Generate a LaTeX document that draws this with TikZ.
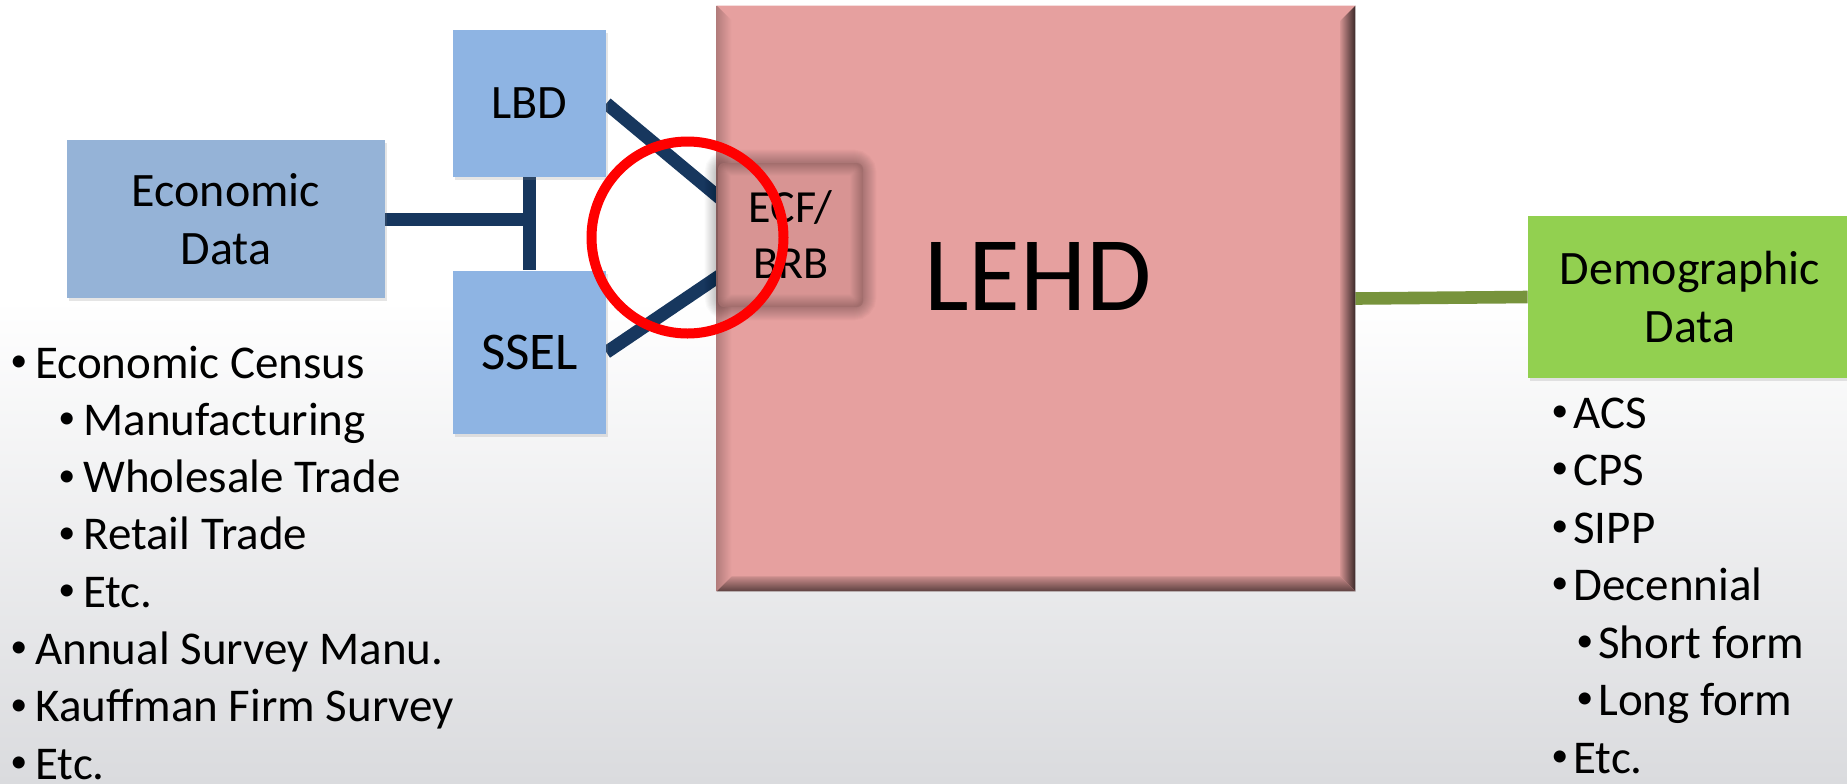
\documentclass[tikz,border=0pt]{standalone}
\usepackage{fontspec}
\setmainfont{Carlito}
\usetikzlibrary{positioning, calc, shadows}

\definecolor{econblue}{RGB}{149,179,215}
\definecolor{srcblue}{RGB}{142,180,227}
\definecolor{wirenavy}{RGB}{23,55,94}
\definecolor{lehdpink}{RGB}{230,160,159}
\definecolor{ecfpink}{RGB}{216,148,147}
\definecolor{demoggreen}{RGB}{146,208,80}
\definecolor{wiregreen}{RGB}{119,147,60}
\definecolor{backgray}{RGB}{218,219,222}

\pgfdeclarelayer{backdrop}
\pgfdeclarelayer{wires}
\pgfsetlayers{backdrop,wires,main}

\newcommand{\listdot}{\makebox[0pt][l]{\raisebox{3.3pt}{\fontsize{17}{17}\selectfont•}}}

\begin{document}
\begin{tikzpicture}[x=0.5pt, y=-0.5pt]
    \tikzset{
      databox/.style={rectangle, inner sep=0pt, align=center, font=\fontsize{24}{29}\selectfont,
        drop shadow={shadow xshift=1pt, shadow yshift=-1.5pt, opacity=.2}},
      navywire/.style={line width=6.5pt, draw=wirenavy},
      listitem/.style={anchor=base west, inner sep=0pt, font=\fontsize{23.5}{28}\selectfont}
    }

    \useasboundingbox (0,0) rectangle (1847,783);
    \begin{pgfonlayer}{backdrop}
      \fill[white] (0,0) rectangle (1847,302);
      \shade[top color=white, bottom color=backgray] (0,300) rectangle (1847,783);
    \end{pgfonlayer}

    % economic side
    \node[databox, fill=econblue, minimum width=159pt, minimum height=79pt] (econ) at (226,219) {Economic\\Data};
    \node[databox, fill=srcblue, minimum width=76.5pt, minimum height=73.5pt] (lbd) at (529.5,103.5) {LBD};
    \node[databox, fill=srcblue, minimum width=76.5pt, minimum height=81.5pt, below=46.5pt of lbd,
      font=\fontsize{26.5}{30}\selectfont] (ssel) {SSEL};

    % LEHD with bevel
    \node[rectangle, fill=lehdpink, inner sep=0pt, minimum width=319pt, minimum height=292.5pt] (lehd) at (1036,298.5) {};
    \shade[top color=lehdpink, middle color=lehdpink!40!white, bottom color=lehdpink]
      (lehd.north west) -- (lehd.north east) -- ($(lehd.north east)+(-15,15)$) -- ($(lehd.north west)+(15,15)$) -- cycle;
    \shade[left color=lehdpink!78!black, right color=lehdpink]
      (lehd.north west) -- ($(lehd.north west)+(15,15)$) -- ($(lehd.south west)+(15,-15)$) -- (lehd.south west) -- cycle;
    \shade[left color=lehdpink!90!black, right color=lehdpink!25!black]
      (lehd.north east) -- (lehd.south east) -- ($(lehd.south east)+(-15,-15)$) -- ($(lehd.north east)+(-15,15)$) -- cycle;
    \shade[top color=lehdpink!88!black, bottom color=lehdpink!40!black]
      (lehd.south west) -- (lehd.south east) -- ($(lehd.south east)+(-15,-15)$) -- ($(lehd.south west)+(15,-15)$) -- cycle;
    \node[inner sep=0pt, font=\fontsize{53}{60}\selectfont] (lehdlabel) at (1038,276) {LEHD};

    \node[rectangle, rounded corners=3pt, fill=ecfpink, inner sep=0pt, minimum width=72.5pt, minimum height=72pt,
      align=center, font=\fontsize{23}{28}\selectfont] (ecf) at (790.5,235) {ECF/\\BRB};
    \foreach \w in {2,4,...,26}
      \draw[black, opacity=.018, line width=\w*0.5pt, rounded corners=5pt] (ecf.north west) rectangle (ecf.south east);

    % demographic side
    \node[databox, fill=demoggreen, minimum width=162pt, minimum height=81pt] (demog) at (1690,297) {Demographic\\Data};

    \begin{pgfonlayer}{wires}
      \draw[navywire] (lbd.south) -- (ssel.north);
      \draw[navywire] (econ.east) -- (econ.east -| lbd.south);
      \draw[navywire, shorten >=-8pt] (lbd.east) -- (ecf.152);
      \draw[navywire, shorten >=-8pt] (ssel.east) -- (ecf.210);
      \draw[line width=6.3pt, draw=wiregreen] (lehd.east) -- (demog.west);
    \end{pgfonlayer}

    \node[circle, draw=red, line width=5pt, minimum size=96pt, inner sep=0pt] (focus) at (687.5,237.5) {};

    % bullet lists
    \foreach \lvl/\txt [count=\i from 0] in {1/Economic Census, 2/Manufacturing, 2/Wholesale Trade, 2/Retail Trade,
        2/Etc., 1/Annual Survey Manu., 1/Kauffman Firm Survey, 1/Etc.}
      \node[listitem] (econitem\i) at ({10+48*(\lvl-1)}, {378+57.3*\i}) {\makebox[12.5pt][l]{\listdot}\txt};
    \foreach \lvl/\txt [count=\i from 0] in {1/ACS, 1/CPS, 1/SIPP, 1/Decennial, 2/Short form, 2/Long form, 1/Etc.}
      \node[listitem] (demogitem\i) at ({1551+25*(\lvl-1)}, {428+57.5*\i}) {\makebox[11pt][l]{\listdot}\txt};

\end{tikzpicture}
\end{document}
